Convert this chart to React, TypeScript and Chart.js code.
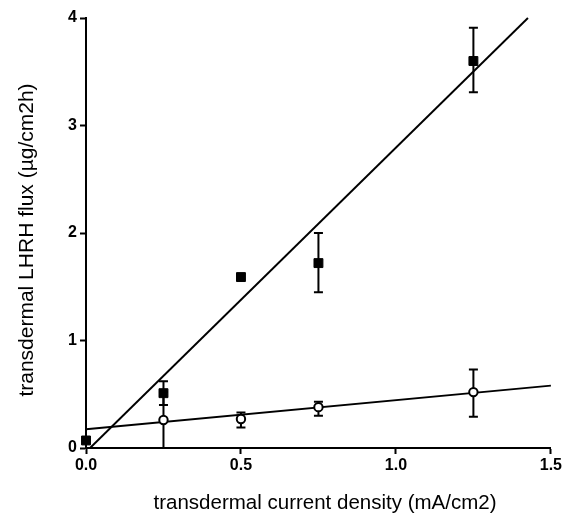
import React, { useEffect, useRef } from "react";
import { Chart, registerables } from "chart.js";

Chart.register(...registerables);

// Filled squares series
const squareX = [0, 0.25, 0.5, 0.75, 1.25];
const squareY = [0.07, 0.51, 1.59, 1.72, 3.6];
const squareLow: (number | null)[] = [null, 0.4, null, 1.45, 3.31];
const squareHigh: (number | null)[] = [null, 0.62, null, 2.0, 3.91];

// Open circles series
const circleX = [0.25, 0.5, 0.75, 1.25];
const circleY = [0.26, 0.27, 0.38, 0.52];
const circleLow = [0.0, 0.19, 0.3, 0.29];
const circleHigh = [0.52, 0.33, 0.43, 0.73];

// Regression lines (end points)
const steepLineX = [0.013, 1.426];
const steepLineY = [0, 4];
const flatLineX = [0, 1.5];
const flatLineY = [0.175, 0.58];

const xTicks = [0, 0.5, 1.0, 1.5];
const yTicks = [0, 1, 2, 3, 4];

const xTitle = "transdermal current density (mA/cm2)";
const yTitle = "transdermal LHRH flux (\u00b5g/cm2h)";

const FONT_FAMILY = "'Liberation Sans', Arial, sans-serif";

const errorBarPlugin = {
  id: "errorBars",
  beforeDatasetsDraw(chart: any) {
    const ctx = chart.ctx;
    const xs = chart.scales.x;
    const ys = chart.scales.y;
    const cap = 4.5;
    ctx.save();
    ctx.strokeStyle = "#000";
    ctx.lineWidth = 2;
    const draw = (xv: number, lo: number | null, hi: number | null) => {
      if (lo === null || hi === null) return;
      const px = xs.getPixelForValue(xv);
      const pl = ys.getPixelForValue(lo);
      const ph = ys.getPixelForValue(hi);
      ctx.beginPath();
      ctx.moveTo(px, pl);
      ctx.lineTo(px, ph);
      ctx.moveTo(px - cap, pl);
      ctx.lineTo(px + cap, pl);
      ctx.moveTo(px - cap, ph);
      ctx.lineTo(px + cap, ph);
      ctx.stroke();
    };
    squareX.forEach((xv, i) => draw(xv, squareLow[i], squareHigh[i]));
    circleX.forEach((xv, i) => draw(xv, circleLow[i], circleHigh[i]));
    ctx.restore();
  },
};

const axisTitlePlugin = {
  id: "axisTitles",
  afterDraw(chart: any) {
    const ctx = chart.ctx;
    ctx.save();
    ctx.fillStyle = "#000";
    ctx.textAlign = "center";
    ctx.textBaseline = "alphabetic";
    ctx.font = `normal 20.5px ${FONT_FAMILY}`;
    ctx.fillText(xTitle, 325, 508.5);
    ctx.translate(33, 240);
    ctx.rotate(-Math.PI / 2);
    ctx.font = `normal 21px ${FONT_FAMILY}`;
    ctx.fillText(yTitle, 0, 0);
    ctx.restore();
  },
};

export default function App() {
  const ref = useRef<HTMLCanvasElement>(null);
  useEffect(() => {
    if (!ref.current) return;
    const tickFont = { family: FONT_FAMILY, size: 16, weight: "bold" as const };
    const chart = new Chart(ref.current, {
      type: "scatter",
      data: {
        datasets: [
          {
            label: "squares",
            data: squareX.map((x, i) => ({ x, y: squareY[i] })),
            pointStyle: "rect",
            pointRadius: 6.3,
            backgroundColor: "#000",
            borderColor: "#000",
            borderWidth: 1,
            showLine: false,
            clip: false,
          },
          {
            label: "circles",
            data: circleX.map((x, i) => ({ x, y: circleY[i] })),
            pointStyle: "circle",
            pointRadius: 4.2,
            backgroundColor: "#fff",
            borderColor: "#000",
            borderWidth: 2,
            showLine: false,
            clip: false,
          },
          {
            label: "steep",
            data: steepLineX.map((x, i) => ({ x, y: steepLineY[i] })),
            showLine: true,
            pointRadius: 0,
            borderColor: "#000",
            borderWidth: 1.9,
            clip: false,
          },
          {
            label: "flat",
            data: flatLineX.map((x, i) => ({ x, y: flatLineY[i] })),
            showLine: true,
            pointRadius: 0,
            borderColor: "#000",
            borderWidth: 1.9,
            clip: false,
          },
        ],
      },
      options: {
        animation: false,
        responsive: false,
        layout: { padding: { left: 0, top: 18, right: 11, bottom: 0 } },
        plugins: { legend: { display: false }, tooltip: { enabled: false } },
        scales: {
          x: {
            type: "linear",
            min: 0,
            max: 1.5,
            afterFit: (s: any) => {
              s.height = 66;
            },
            afterBuildTicks: (s: any) => {
              s.ticks = xTicks.map((v) => ({ value: v }));
            },
            ticks: {
              color: "#000",
              font: tickFont,
              padding: 2,
              maxRotation: 0,
              callback: (v: any) => Number(v).toFixed(1),
            },
            grid: {
              drawOnChartArea: false,
              drawTicks: true,
              tickLength: 6,
              tickColor: "#000",
              tickWidth: 2,
            },
            border: { display: true, color: "#000", width: 2 },
            title: { display: false, text: xTitle },
          },
          y: {
            type: "linear",
            min: 0,
            max: 4,
            afterFit: (s: any) => {
              s.width = 86;
            },
            afterBuildTicks: (s: any) => {
              s.ticks = yTicks.map((v) => ({ value: v }));
            },
            ticks: {
              color: "#000",
              font: tickFont,
              padding: 3,
              callback: (v: any) => String(v),
            },
            grid: {
              drawOnChartArea: false,
              drawTicks: true,
              tickLength: 6,
              tickColor: "#000",
              tickWidth: 2,
            },
            border: { display: true, color: "#000", width: 2 },
            title: { display: false, text: yTitle },
          },
        },
      },
      plugins: [errorBarPlugin, axisTitlePlugin],
    });
    return () => chart.destroy();
  }, []);
  return (
    <div style={{ position: "fixed", left: 0, top: 0, width: 564, height: 514, background: "#fff" }}>
      <canvas ref={ref} width={564} height={514} style={{ width: 564, height: 514 }} />
    </div>
  );
}
